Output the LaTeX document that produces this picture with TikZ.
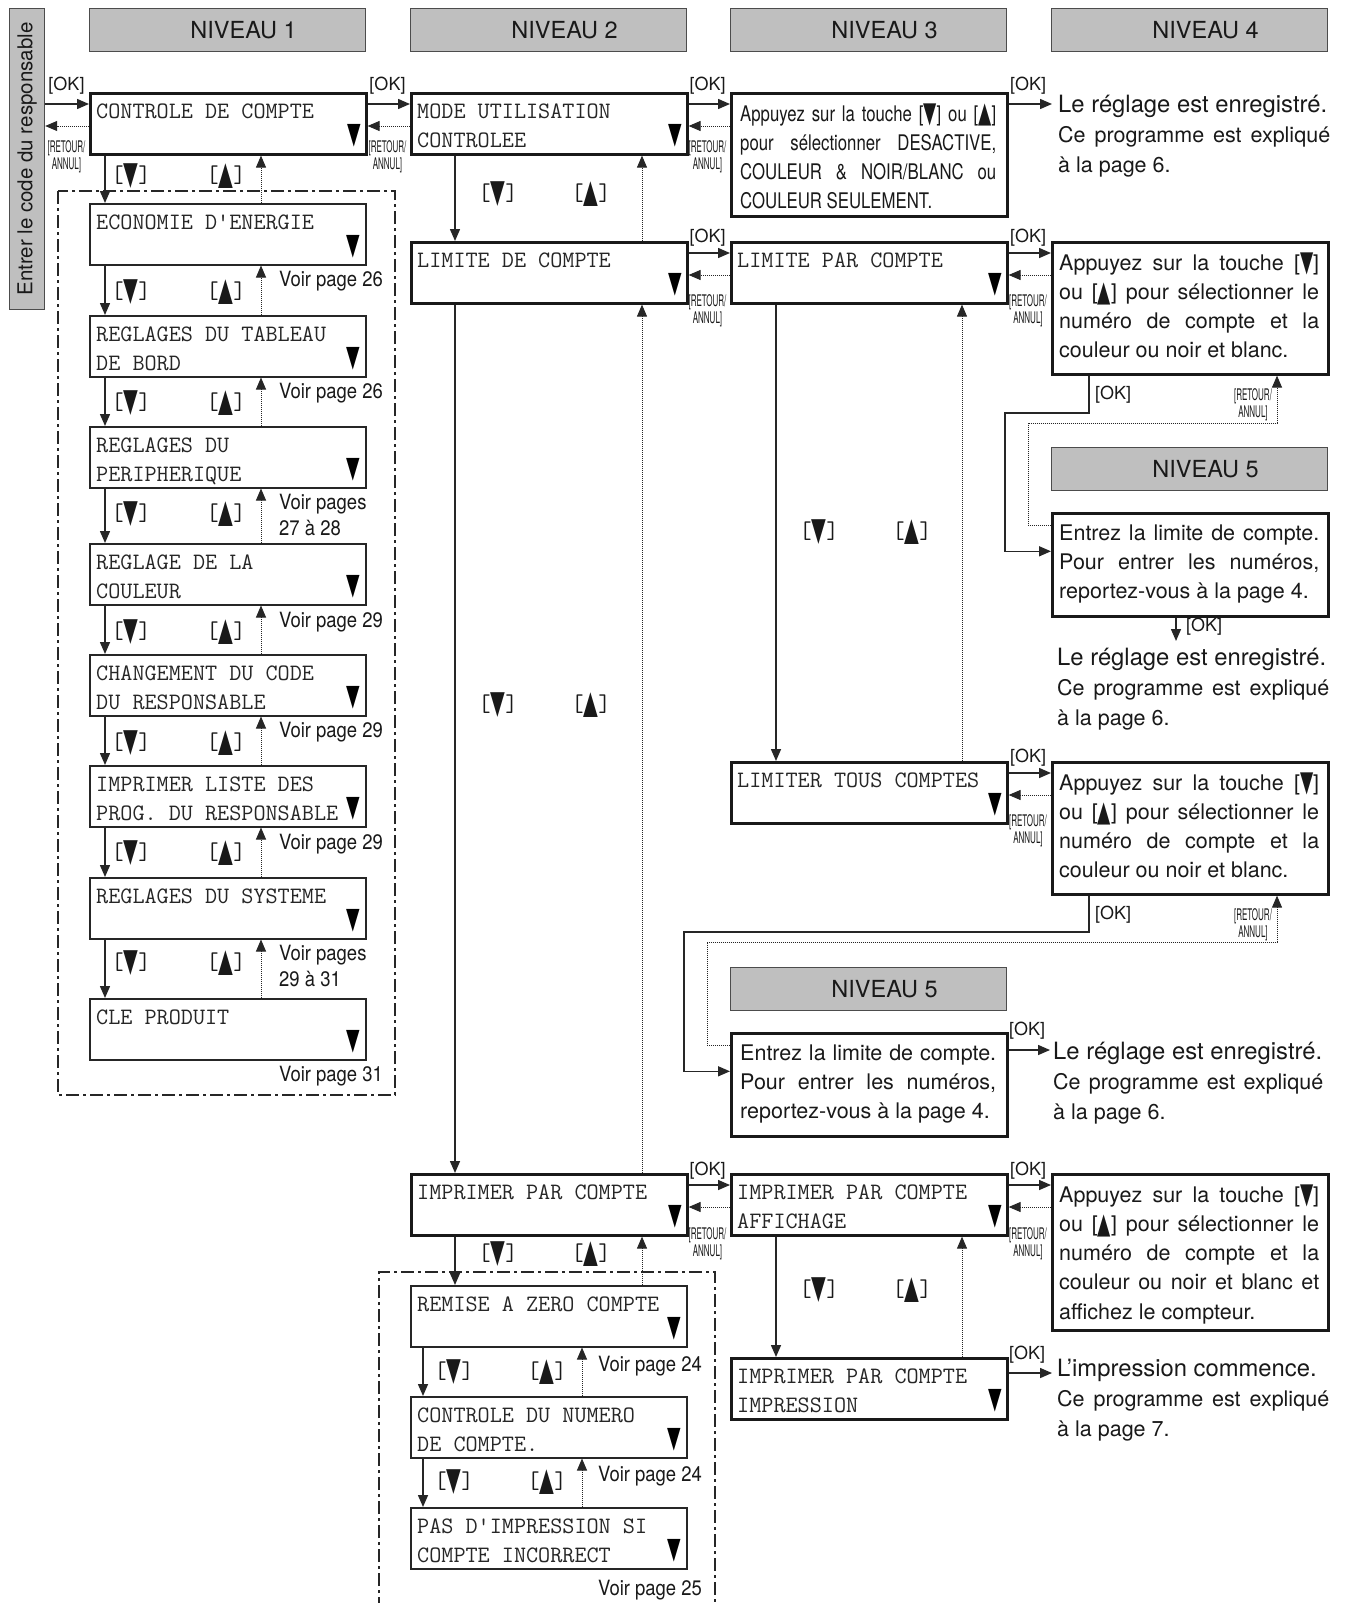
\documentclass[tikz,border=0pt]{standalone}
\usepackage{fontspec}
\usepackage{graphicx}
\setmainfont{TeX Gyre Heros}
\newfontfamily\trifont{DejaVu Sans}
\newfontfamily\condfont{TeX Gyre Heros}[FakeStretch=0.78]
\newfontfamily\retfont{TeX Gyre Heros}[FakeStretch=0.5]
\newfontfamily\voirfont{TeX Gyre Heros}[FakeStretch=0.88]
\usetikzlibrary{arrows.meta}
\newcommand\tdn{{\trifont\raisebox{-0.08em}{\scalebox{0.8}[1.35]{▼}}}}
\newcommand\tup{{\trifont\raisebox{-0.08em}{\scalebox{0.8}[1.35]{▲}}}}
\newcommand\kdn{{\ttfamily[}\tdn{\ttfamily]}}
\newcommand\kup{{\ttfamily[}\tup{\ttfamily]}}
\tikzset{
 hdr/.style={draw=black!70, fill=black!25, line width=1.2pt, minimum width=276pt, minimum height=43pt, anchor=north west, inner sep=0pt, font=\fontsize{23.5}{28}\selectfont, text=black!90},
 thickbox/.style={draw=black!90, line width=2.6pt, anchor=north west, inner sep=0pt, minimum width=276pt, minimum height=61pt},
 thinbox/.style={draw=black!85, line width=1.5pt, anchor=north west, inner sep=0pt, minimum width=276pt, minimum height=61pt},
 mono/.style={anchor=base west, inner sep=0pt, font=\ttfamily\fontsize{23.5}{29}\selectfont, text=black!85},
 tri/.style={inner sep=0pt, font=\fontsize{22}{22}\selectfont, text=black},
 sol/.style={line width=1.5pt, draw=black!85, -{Triangle[length=12pt,width=10pt]}},
 dotarr/.style={line width=1pt, draw=black!85, dash pattern=on 1pt off 1pt, -{Triangle[length=12pt,width=10pt]}},
 ok/.style={inner sep=0pt, font=\fontsize{18}{18}\selectfont, text=black!90},
 ret/.style={inner sep=0pt, align=center, font=\retfont\fontsize{16}{17}\selectfont, text=black!90},
 keylab/.style={inner sep=0pt, font=\fontsize{24}{24}\selectfont, text=black!90},
 voir/.style={anchor=base west, inner sep=0pt, font=\voirfont\fontsize{21}{26.5}\selectfont, text=black!90},
 sans/.style={anchor=base west, inner sep=0pt, text=black!90},
 dashdot/.style={line width=1.8pt, draw=black!85, dash pattern=on 13pt off 4pt on 3pt off 4pt},
}
% #1 style, #2 name, #3 left x, #4 top y, #5 line 1, #6 line 2
\newcommand\menubox[6]{%
  \node[#1] (#2) at (#3,#4) {};
  \node[mono] (#2-a) at ([xshift=7pt,yshift=-26pt]#2.north west) {#5};
  \node[mono] (#2-b) at ([xshift=7pt,yshift=-55pt]#2.north west) {#6};
  \node[tri] (#2-t) at ([xshift=-13pt,yshift=-44pt]#2.north east) {\tdn};
}
% #1 left box, #2 right box, #3 id, #4 gap centre x, #5 ok label y, #6 retour label y
\newcommand\okpair[6]{%
  \draw[sol] ([yshift=-12pt]#1.north east) -- ([yshift=-12pt]#2.north west);
  \draw[dotarr] ([yshift=-34pt]#2.north west) -- ([yshift=-34pt]#1.north east);
  \node[ok] (ok#3) at (#4,#5) {[OK]};
  \node[ret] (ret#3) at (#4,#6) {[RETOUR/\\ANNUL]};
}
% #1 upper box, #2 lower box, #3 solid dx, #4 dotted dx, #5 id, #6 label y, #7 down-label x, #8 up-label x
\newcommand\vchain[8]{%
  \draw[sol] ([xshift=#3pt]#1.south west) -- ([xshift=#3pt]#2.north west);
  \draw[dotarr] ([xshift=#4pt]#2.north west) -- ([xshift=#4pt]#1.south west);
  \node[keylab] (kd#5) at (#7,#6) {\kdn};
  \node[keylab] (ku#5) at (#8,#6) {\kup};
}
\begin{document}
\begin{tikzpicture}[x=1pt,y=-1pt]
\fill[white] (0,0) rectangle (1346,1603);
\useasboundingbox (0,0) rectangle (1346,1603);

% headers
\node[hdr] (n1) at (89,8) {\hspace*{32pt}NIVEAU 1};
\node[hdr] (n2) at (410,8) {\hspace*{32pt}NIVEAU 2};
\node[hdr] (n3) at (730,8) {\hspace*{32pt}NIVEAU 3};
\node[hdr] (n4) at (1051,8) {\hspace*{32pt}NIVEAU 4};
\node[hdr] (n5a) at (1051,447) {\hspace*{32pt}NIVEAU 5};
\node[hdr] (n5b) at (730,967) {\hspace*{32pt}NIVEAU 5};

% side bar
\node[draw=black!70, fill=black!25, line width=1.2pt, minimum width=35pt, minimum height=301pt, anchor=north west, inner sep=0pt] (bar) at (9,8) {};
\node[rotate=90, inner sep=0pt, font=\fontsize{20.5}{20.5}\selectfont, text=black!90] (bart) at (bar.center) {Entrer le code du responsable};

% dash-dot frames
\draw[dashdot] (58,191) rectangle (395,1095);
\draw[dashdot] (379,1610) -- (379,1272) -- (715,1272) -- (715,1610);

% main menu boxes
\menubox{thickbox}{cc}{89}{92}{CONTROLE DE COMPTE}{}
\menubox{thickbox}{mu}{410}{92}{MODE UTILISATION}{CONTROLEE}
\menubox{thickbox}{lc}{410}{241}{LIMITE DE COMPTE}{}
\menubox{thickbox}{lp}{730}{241}{LIMITE PAR COMPTE}{}
\menubox{thickbox}{lt}{730}{761}{LIMITER TOUS COMPTES}{}
\menubox{thickbox}{ip}{410}{1173}{IMPRIMER PAR COMPTE}{}
\menubox{thickbox}{ia}{730}{1173}{IMPRIMER PAR COMPTE}{AFFICHAGE}
\menubox{thickbox}{ii}{730}{1357}{IMPRIMER PAR COMPTE}{IMPRESSION}

% level 1 list
\menubox{thinbox}{e1}{89}{203}{ECONOMIE D'ENERGIE}{}
\menubox{thinbox}{e2}{89}{315}{REGLAGES DU TABLEAU}{DE BORD}
\menubox{thinbox}{e3}{89}{426}{REGLAGES DU}{PERIPHERIQUE}
\menubox{thinbox}{e4}{89}{543}{REGLAGE DE LA}{COULEUR}
\menubox{thinbox}{e5}{89}{654}{CHANGEMENT DU CODE}{DU RESPONSABLE}
\menubox{thinbox}{e6}{89}{765}{IMPRIMER LISTE DES}{PROG. DU RESPONSABLE}
\menubox{thinbox}{e7}{89}{877}{REGLAGES DU SYSTEME}{}
\menubox{thinbox}{e8}{89}{998}{CLE PRODUIT}{}

% level 2 list
\menubox{thinbox}{r1}{410}{1285}{REMISE A ZERO COMPTE}{}
\menubox{thinbox}{r2}{410}{1396}{CONTROLE DU NUMERO}{DE COMPTE.}
\menubox{thinbox}{r3}{410}{1507}{PAS D'IMPRESSION SI}{COMPTE INCORRECT}

% text boxes
\node[thickbox, minimum height=123pt] (a1) at (730,92) {};
\node[sans] (a1-x) at ([xshift=10pt,yshift=-29pt]a1.north west) {\parbox[t]{256pt}{\condfont\fontsize{21.5}{29.3}\selectfont Appuyez sur la touche [\tdn] ou [\tup]\linebreak pour sélectionner DESACTIVE,\linebreak COULEUR \& NOIR/BLANC ou\linebreak COULEUR SEULEMENT.}};

\node[thickbox, minimum height=132pt] (a2) at (1051,241) {};
\node[sans] (a2-x) at ([xshift=8pt,yshift=-29pt]a2.north west) {\parbox[t]{260pt}{\fontsize{21.5}{29.3}\selectfont Appuyez sur la touche [\tdn]\linebreak ou [\tup] pour sélectionner le\linebreak numéro de compte et la\linebreak couleur ou noir et blanc.}};

\node[thickbox, minimum height=103pt] (en1) at (1051,512) {};
\node[sans] (en1-x) at ([xshift=8pt,yshift=-28pt]en1.north west) {\parbox[t]{260pt}{\fontsize{21.5}{29.3}\selectfont Entrez la limite de compte.\linebreak Pour entrer les numéros,\linebreak reportez-vous à la page 4.}};

\node[thickbox, minimum height=132pt] (a3) at (1051,761) {};
\node[sans] (a3-x) at ([xshift=8pt,yshift=-29pt]a3.north west) {\parbox[t]{260pt}{\fontsize{21.5}{29.3}\selectfont Appuyez sur la touche [\tdn]\linebreak ou [\tup] pour sélectionner le\linebreak numéro de compte et la\linebreak couleur ou noir et blanc.}};

\node[thickbox, minimum height=103pt] (en2) at (730,1032) {};
\node[sans] (en2-x) at ([xshift=10pt,yshift=-28pt]en2.north west) {\parbox[t]{256pt}{\fontsize{21.5}{29.3}\selectfont Entrez la limite de compte.\linebreak Pour entrer les numéros,\linebreak reportez-vous à la page 4.}};

\node[thickbox, minimum height=156pt] (a4) at (1051,1173) {};
\node[sans] (a4-x) at ([xshift=8pt,yshift=-29pt]a4.north west) {\parbox[t]{260pt}{\fontsize{21.5}{29.3}\selectfont Appuyez sur la touche [\tdn]\linebreak ou [\tup] pour sélectionner le\linebreak numéro de compte et la\linebreak couleur ou noir et blanc et\linebreak affichez le compteur.}};

% free text blocks
\node[sans] (t1) at (1058,112.5) {\parbox[t]{272pt}{\fontsize{23.8}{29.8}\selectfont Le réglage est enregistré.\\\fontsize{21.5}{29.8}\selectfont Ce programme est expliqué\linebreak à la page 6.}};
\node[sans] (t2) at (1057,665.5) {\parbox[t]{272pt}{\fontsize{23.8}{29.8}\selectfont Le réglage est enregistré.\\\fontsize{21.5}{29.8}\selectfont Ce programme est expliqué\linebreak à la page 6.}};
\node[sans] (t3) at (1053,1059.5) {\parbox[t]{270pt}{\fontsize{23.8}{29.8}\selectfont Le réglage est enregistré.\\\fontsize{21.5}{29.8}\selectfont Ce programme est expliqué\linebreak à la page 6.}};
\node[sans] (t4) at (1057,1376.5) {\parbox[t]{272pt}{\fontsize{23.8}{29.8}\selectfont L'impression commence.\\\fontsize{21.5}{29.8}\selectfont Ce programme est expliqué\linebreak à la page 7.}};

% "Voir page" notes
\node[voir] (v1) at (279,286) {Voir page 26};
\node[voir] (v2) at (279,398) {Voir page 26};
\node[voir] (v3) at (279,509) {\parbox[t]{110pt}{\raggedright Voir pages\\27 à 28}};
\node[voir] (v4) at (279,627) {Voir page 29};
\node[voir] (v5) at (279,737) {Voir page 29};
\node[voir] (v6) at (279,849) {Voir page 29};
\node[voir] (v7) at (279,960) {\parbox[t]{110pt}{\raggedright Voir pages\\29 à 31}};
\node[voir] (v8) at (279,1081) {Voir page 31};
\node[voir] (v9) at (598,1371) {Voir page 24};
\node[voir] (v10) at (598,1481) {Voir page 24};
\node[voir] (v11) at (598,1595) {Voir page 25};

% entry from side bar
\coordinate (cc-ok) at ([yshift=-12pt]cc.north west);
\coordinate (cc-ret) at ([yshift=-34pt]cc.north west);
\draw[sol] (bar.east |- cc-ok) -- (cc-ok);
\draw[dotarr] (cc-ret) -- (cc-ret -| bar.east);
\node[ok] (ok0) at (66.5,86) {[OK]};
\node[ret] (ret0) at (66.5,157) {[RETOUR/\\ANNUL]};

% horizontal OK / RETOUR pairs
\okpair{cc}{mu}{1}{387.5}{86}{157}
\okpair{mu}{a1}{2}{707.5}{86}{157}
\okpair{lc}{lp}{3}{707.5}{238}{311}
\okpair{lp}{a2}{4}{1028}{238}{311}
\okpair{lt}{a3}{5}{1028}{758}{831}
\okpair{ip}{ia}{6}{707.5}{1171}{1244}
\okpair{ia}{a4}{7}{1028}{1171}{1244}

% OK arrows to result texts
\coordinate (t1a) at (1052,104);
\draw[sol] ([yshift=-12pt]a1.north east) -- (t1a);
\node[ok] (ok8) at (1028,86) {[OK]};
\coordinate (t3a) at (1050,1050);
\draw[sol] ([yshift=-18pt]en2.north east) -- (t3a);
\node[ok] (ok9) at (1027,1031) {[OK]};
\coordinate (t4a) at (1052,1373);
\draw[sol] ([yshift=-16pt]ii.north east) -- (t4a);
\node[ok] (ok10) at (1027,1355) {[OK]};
\coordinate (e1end) at (1176,641);
\draw[sol] (e1end |- en1.south) -- (e1end);
\node[ok] (ok11) at (1204,627) {[OK]};

% bent connectors to level 5
\coordinate (k1) at (1005,413);
\coordinate (k2) at (1028,423);
\draw[sol] ([xshift=38pt]a2.south west) |- (k1) |- ([yshift=13.5pt]en1.west);
\draw[dotarr] ([yshift=39.5pt]en1.west) -| (k2) -| ([xshift=226pt]a2.south west);
\node[ok] (ok12) at (1113,395) {[OK]};
\node[ret] (ret12) at (1253,405) {[RETOUR/\\ANNUL]};

\coordinate (k3) at (684,932);
\coordinate (k4) at (707,942);
\draw[sol] ([xshift=38pt]a3.south west) |- (k3) |- ([yshift=13.5pt]en2.west);
\draw[dotarr] ([yshift=39.5pt]en2.west) -| (k4) -| ([xshift=226pt]a3.south west);
\node[ok] (ok13) at (1113,915) {[OK]};
\node[ret] (ret13) at (1253,925) {[RETOUR/\\ANNUL]};

% vertical chains
\vchain{cc}{e1}{16}{172}{c0}{176}{131}{226}
\vchain{e1}{e2}{16}{172}{c1}{292}{131}{226}
\vchain{e2}{e3}{16}{172}{c2}{403}{131}{226}
\vchain{e3}{e4}{16}{172}{c3}{514}{131}{226}
\vchain{e4}{e5}{16}{172}{c4}{632}{131}{226}
\vchain{e5}{e6}{16}{172}{c5}{743}{131}{226}
\vchain{e6}{e7}{16}{172}{c6}{853}{131}{226}
\vchain{e7}{e8}{16}{172}{c7}{963}{131}{226}
\vchain{mu}{lc}{45}{232}{d0}{194}{498}{591}
\vchain{lc}{ip}{45}{232}{d1}{705}{498}{591}
\vchain{ip}{r1}{45}{232}{d2}{1254}{498}{591}
\vchain{r1}{r2}{13}{172}{d3}{1372}{454}{547}
\vchain{r2}{r3}{13}{172}{d4}{1482}{454}{547}
\vchain{lp}{lt}{46}{232}{f0}{532}{819}{912}
\vchain{ia}{ii}{46}{232}{f1}{1290}{819}{912}
\end{tikzpicture}
\end{document}
